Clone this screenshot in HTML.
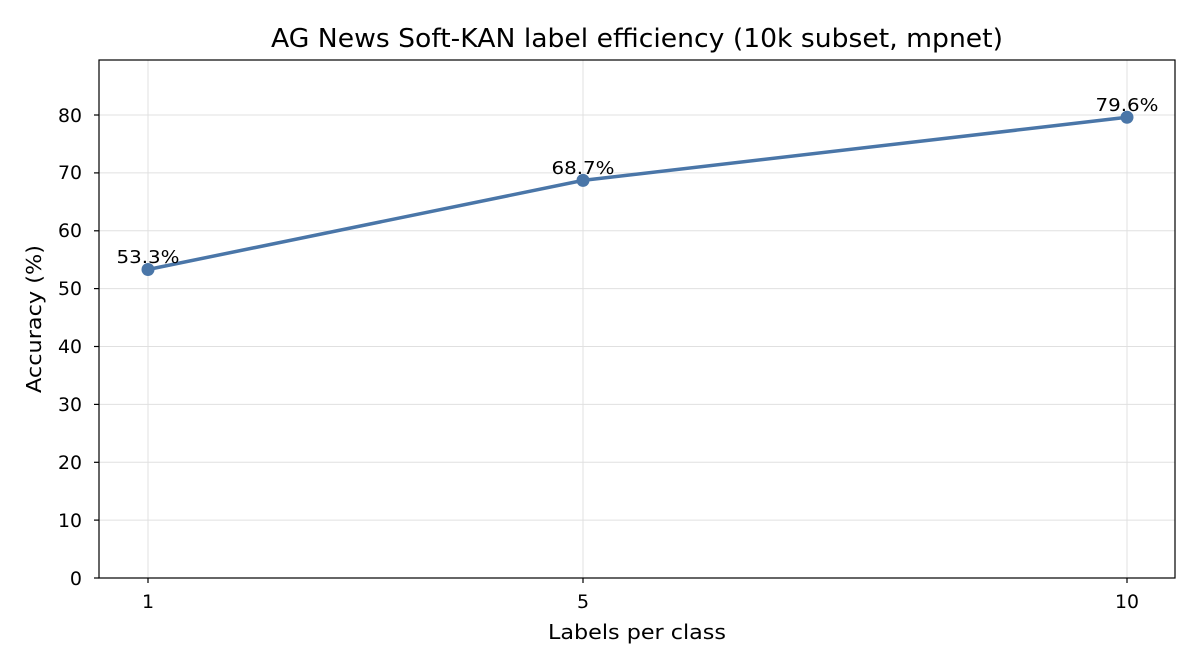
<!DOCTYPE html>
<html><head><style>body{margin:0;background:#fff}svg{display:block}text{font-family:"DejaVu Sans","Liberation Sans",sans-serif;fill:#000}</style></head>
<body>
<svg width="1200" height="672" viewBox="0 0 1200 672" xmlns="http://www.w3.org/2000/svg">
<rect width="1200" height="672" fill="#fff"/>
<g stroke="#e0e0e0" stroke-width="1">
<line x1="99" x2="1175" y1="520.1" y2="520.1"/>
<line x1="99" x2="1175" y1="462.3" y2="462.3"/>
<line x1="99" x2="1175" y1="404.4" y2="404.4"/>
<line x1="99" x2="1175" y1="346.5" y2="346.5"/>
<line x1="99" x2="1175" y1="288.6" y2="288.6"/>
<line x1="99" x2="1175" y1="230.8" y2="230.8"/>
<line x1="99" x2="1175" y1="172.9" y2="172.9"/>
<line x1="99" x2="1175" y1="115" y2="115"/>
<line x1="148" x2="148" y1="60" y2="578"/>
<line x1="583" x2="583" y1="60" y2="578"/>
<line x1="1127" x2="1127" y1="60" y2="578"/>
</g>
<rect x="99" y="60" width="1076" height="518" fill="none" stroke="#000" stroke-width="1.2"/>
<g stroke="#000" stroke-width="1.2">
<line x1="94" x2="99" y1="578" y2="578"/><line x1="94" x2="99" y1="520.1" y2="520.1"/><line x1="94" x2="99" y1="462.3" y2="462.3"/><line x1="94" x2="99" y1="404.4" y2="404.4"/><line x1="94" x2="99" y1="346.5" y2="346.5"/><line x1="94" x2="99" y1="288.6" y2="288.6"/><line x1="94" x2="99" y1="230.8" y2="230.8"/><line x1="94" x2="99" y1="172.9" y2="172.9"/><line x1="94" x2="99" y1="115" y2="115"/>
<line x1="148" x2="148" y1="578" y2="583"/><line x1="583" x2="583" y1="578" y2="583"/><line x1="1127" x2="1127" y1="578" y2="583"/>
</g>
<g font-size="19" text-anchor="end">
<text x="82" y="585">0</text><text x="82" y="527" textLength="24" lengthAdjust="spacingAndGlyphs">10</text><text x="82" y="469" textLength="24" lengthAdjust="spacingAndGlyphs">20</text><text x="82" y="411" textLength="24" lengthAdjust="spacingAndGlyphs">30</text><text x="82" y="353" textLength="24" lengthAdjust="spacingAndGlyphs">40</text><text x="82" y="295" textLength="24" lengthAdjust="spacingAndGlyphs">50</text><text x="82" y="237" textLength="24" lengthAdjust="spacingAndGlyphs">60</text><text x="82" y="179" textLength="24" lengthAdjust="spacingAndGlyphs">70</text><text x="82" y="122" textLength="24" lengthAdjust="spacingAndGlyphs">80</text>
</g>
<g font-size="19" text-anchor="middle">
<text x="148" y="608">1</text><text x="583" y="608">5</text><text x="1127" y="608" textLength="24" lengthAdjust="spacingAndGlyphs">10</text>
<text x="637" y="639" font-size="20" textLength="178" lengthAdjust="spacingAndGlyphs">Labels per class</text>
<text x="637" y="47" font-size="26" textLength="732" lengthAdjust="spacingAndGlyphs">AG News Soft-KAN label efficiency (10k subset, mpnet)</text>
</g>
<text transform="translate(41,319) rotate(-90)" font-size="20" text-anchor="middle" textLength="148" lengthAdjust="spacingAndGlyphs">Accuracy (%)</text>
<polyline points="148,269.5 583,180.4 1127,117.3" fill="none" stroke="#4a76a8" stroke-width="3.5"/>
<g fill="#4a76a8"><circle cx="148" cy="269.5" r="6.5"/><circle cx="583" cy="180.4" r="6.5"/><circle cx="1127" cy="117.3" r="6.5"/></g>
<g font-size="18" text-anchor="middle">
<text x="148" y="263" textLength="63" lengthAdjust="spacingAndGlyphs">53.3%</text><text x="583" y="174" textLength="63" lengthAdjust="spacingAndGlyphs">68.7%</text><text x="1127" y="111" textLength="63" lengthAdjust="spacingAndGlyphs">79.6%</text>
</g>
</svg>
</body></html>
